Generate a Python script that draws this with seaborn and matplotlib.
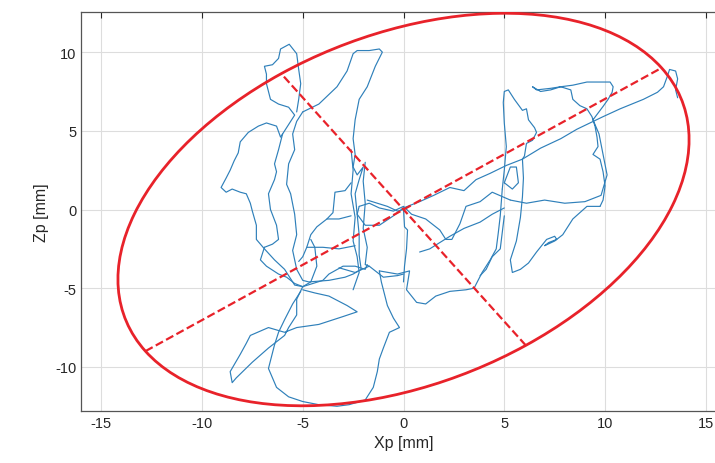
import numpy as np
import pandas as pd
import seaborn as sns
from matplotlib import pyplot as plt
from matplotlib.patches import Ellipse

# centre of pressure trace [mm]
loop_top_left = [(-5.3, 6.2), (-5.2, 7.0), (-5.1, 8.0), (-5.2, 8.9), (-5.3, 9.9), (-5.67, 10.5),
                 (-6.1, 10.2), (-6.2, 9.6), (-6.5, 9.2), (-6.9, 9.1), (-6.8, 8.6), (-6.8, 8.0),
                 (-6.6, 7.0), (-6.2, 6.7), (-5.7, 6.5), (-5.4, 6.0), (-5.7, 5.4), (-6.0, 4.8)]
left_lobe = [(-6.0, 4.8), (-6.1, 4.6), (-6.3, 5.3), (-6.8, 5.5), (-7.2, 5.3), (-7.7, 4.9),
             (-8.1, 4.3), (-8.2, 3.6), (-8.4, 3.1), (-8.6, 2.5), (-8.8, 2.0), (-9.05, 1.4),
             (-8.8, 1.1), (-8.5, 1.3), (-8.1, 1.1), (-7.8, 1.0), (-7.6, 0.4), (-7.5, -0.1),
             (-7.3, -1.0), (-7.3, -1.9), (-6.9, -2.5), (-6.4, -3.2), (-5.9, -3.8), (-5.4, -4.8),
             (-5.0, -4.9)]
inner_left = [(-6.0, 4.8), (-6.2, 3.8), (-6.4, 2.9), (-6.3, 2.4), (-6.4, 1.9), (-6.7, 1.0),
              (-6.6, 0.0), (-6.3, -1.0), (-6.2, -1.9), (-6.5, -2.2), (-6.9, -2.4)]
tip_loop = [(-5.0, -4.9), (-5.3, -5.7), (-5.3, -6.7), (-5.7, -7.5), (-5.9, -8.0), (-6.7, -8.8),
            (-7.5, -9.7), (-8.3, -10.7), (-8.5, -11.0), (-8.6, -10.3), (-8.1, -9.2), (-7.8, -8.5),
            (-7.6, -8.0), (-6.7, -7.5), (-5.9, -7.8), (-5.3, -7.5), (-4.2, -7.3), (-3.0, -6.8),
            (-2.3, -6.5), (-2.8, -6.1), (-3.7, -5.5), (-4.4, -5.3), (-5.0, -5.1)]
bottom_loop = [(-5.1, -5.2), (-5.5, -6.0), (-5.9, -7.0), (-6.2, -7.8), (-6.4, -8.6), (-6.7, -10.1),
               (-6.3, -11.3), (-5.7, -11.9), (-5.0, -12.2), (-4.2, -12.4), (-3.3, -12.5),
               (-2.7, -12.4), (-1.9, -12.1), (-1.5, -11.3), (-1.3, -10.3), (-1.2, -9.5),
               (-1.0, -8.8), (-0.7, -7.8), (-0.2, -7.5), (-0.5, -6.9), (-0.8, -6.1),
               (-1.1, -4.6), (-1.2, -3.9)]
lower_mid = [(-1.2, -3.9), (-0.3, -4.1), (0.3, -3.9), (0.15, -5.1), (0.65, -5.9), (1.1, -6.0),
             (1.6, -5.5), (2.3, -5.2), (3.1, -5.1), (3.5, -5.0), (3.9, -4.0), (4.3, -3.2),
             (4.6, -2.5), (4.7, -1.5), (4.8, -0.4), (4.9, 1.3)]
column_x5 = [(4.9, 1.3), (5.0, 2.5), (5.1, 4.0), (5.0, 5.5), (4.95, 6.8), (5.0, 7.5), (5.2, 7.6),
             (5.5, 7.0), (5.9, 6.3), (6.1, 6.4), (6.2, 5.7), (6.5, 5.2), (6.6, 4.9), (6.4, 4.4),
             (6.1, 4.2), (6.0, 3.4), (5.9, 3.2)]
spur = [(5.9, 3.2), (5.95, 2.0), (5.9, 0.8), (5.8, -0.5), (5.6, -2.0), (5.3, -3.2), (5.4, -4.0),
        (5.8, -3.8), (6.2, -3.4), (6.6, -2.7), (7.1, -1.9), (7.5, -1.7), (7.6, -1.9),
        (7.2, -2.1), (7.0, -2.3), (7.5, -2.0), (7.9, -1.6), (8.4, -0.6), (9.1, 0.2),
        (9.75, 0.2)]
right_loop = [(9.75, 0.2), (9.9, 0.6), (10.0, 1.5), (9.9, 2.4), (9.75, 3.2), (9.4, 3.5),
              (9.65, 4.0), (9.6, 4.6), (9.5, 5.3), (9.35, 5.9), (9.1, 6.4), (8.75, 6.6),
              (8.4, 7.0), (8.3, 7.6), (7.8, 7.8), (7.3, 7.6), (6.8, 7.5), (6.4, 7.8),
              (6.6, 7.6), (7.3, 7.7), (7.8, 7.8), (8.4, 7.9), (9.1, 8.1), (9.9, 8.1),
              (10.25, 8.1), (10.4, 7.8), (10.35, 7.45), (10.15, 7.0), (9.9, 6.55), (9.4, 5.7),
              (9.7, 4.8), (9.9, 3.5), (10.1, 2.2), (9.8, 0.9), (9.0, 0.5), (8.0, 0.4),
              (7.0, 0.6), (6.1, 0.4), (5.3, 0.6)]
to_centre = [(5.3, 0.6), (4.4, 1.1), (3.8, 0.5), (3.1, 0.2), (2.8, -0.9), (2.4, -1.9),
             (2.1, -1.9), (1.8, -1.3), (1.1, -0.6), (0.4, -0.3), (0.0, 0.2), (-0.5, -0.1),
             (-1.2, 0.1), (-1.7, 0.4), (-2.2, 0.2)]
left_return = [(-2.2, 0.2), (-2.3, -0.3), (-2.2, -1.6), (-2.2, -2.9), (-2.1, -3.8), (-2.5, -4.1),
               (-2.9, -4.3), (-3.7, -4.5), (-4.7, -4.6), (-5.0, -4.5), (-5.3, -3.8),
               (-5.5, -2.6), (-5.3, -1.6), (-5.4, -0.3), (-5.6, 1.0), (-5.8, 1.6), (-5.7, 2.9),
               (-5.4, 3.8), (-5.5, 4.8), (-5.3, 5.6), (-5.0, 6.2)]
upper_mid = [(-5.0, 6.2), (-4.2, 6.7), (-3.3, 7.8), (-2.8, 8.8), (-2.5, 9.9), (-2.3, 10.1),
             (-1.7, 10.1), (-1.2, 10.2), (-1.05, 10.0), (-1.4, 9.1), (-1.8, 7.8), (-2.2, 7.0),
             (-2.4, 5.7), (-2.5, 4.5), (-2.4, 3.5), (-2.5, 2.7), (-2.3, 2.2), (-2.0, 2.7),
             (-2.2, 1.9), (-2.4, 1.0), (-2.3, -0.3), (-1.9, -1.0), (-1.2, -1.0), (-0.5, -0.4),
             (0.0, 0.1)]
far_right = [(0.0, 0.1), (0.8, 0.5), (1.5, 0.9), (2.3, 1.4), (3.0, 1.2), (3.6, 1.9), (4.3, 2.3),
             (5.1, 2.8), (5.9, 3.2), (6.8, 3.9), (7.8, 4.5), (8.6, 5.1), (9.25, 5.5), (9.9, 5.9),
             (10.75, 6.4), (11.9, 7.0), (12.6, 7.45), (12.9, 7.8), (13.1, 8.5), (13.2, 8.9),
             (13.5, 8.8), (13.6, 8.3), (13.5, 7.6), (13.6, 7.1)]
# extra strands in the dense middle
column_b = [(-2.6, 3.8), (-2.5, 2.5), (-2.6, 1.0), (-2.4, -0.5), (-2.5, -2.0), (-2.3, -3.0),
            (-2.2, -4.0), (-2.5, -5.1)]
column_c = [(-1.9, 3.0), (-2.0, 1.8), (-1.9, 0.4), (-2.0, -1.2), (-1.8, -2.4), (-1.9, -3.5),
            (-1.7, -3.6)]
mid_left = [(-2.6, 1.7), (-2.9, 1.2), (-3.4, 1.1), (-3.5, -0.2), (-3.8, -0.6), (-4.3, -1.1),
            (-4.6, -1.6), (-4.8, -2.4), (-5.0, -3.0), (-5.2, -3.3)]
mid_left_b = [(-3.8, -0.6), (-3.2, -0.6), (-2.6, -0.4)]
mid_left_c = [(-4.8, -2.4), (-4.0, -2.4), (-3.2, -2.5), (-2.4, -2.3)]
centre_down = [(-1.8, 0.6), (-1.3, 0.4), (-0.8, 0.2), (-0.3, -0.1), (0.0, 0.0), (0.05, -1.1),
               (0.2, -1.3), (0.15, -2.5), (0.05, -3.6), (0.0, -4.6)]
low_row = [(-3.2, -3.7), (-2.4, -4.0), (-1.7, -3.6), (-1.0, -4.3), (-0.3, -4.2), (0.0, -4.1)]
diag_right = [(0.8, -2.7), (1.3, -2.5), (1.8, -2.1), (2.3, -1.7), (3.0, -1.2), (3.8, -0.8),
              (4.4, -0.3), (5.0, 0.1)]
small_loop = [(5.0, 1.7), (5.3, 2.7), (5.6, 2.7), (5.7, 1.7), (5.4, 1.3), (5.0, 1.7)]
x5_down = [(5.0, -0.4), (4.8, -2.5), (4.4, -3.0), (4.1, -3.8), (3.8, -4.2)]
k1_left = [(-5.0, -4.9), (-5.4, -4.7), (-5.8, -4.3), (-6.2, -4.1), (-6.8, -3.6), (-7.1, -3.2),
           (-6.9, -2.4)]
k1_up = [(-4.6, -1.9), (-4.4, -2.4), (-4.3, -3.6), (-4.6, -4.6), (-5.0, -4.9)]
k1_right = [(-5.0, -4.9), (-4.0, -4.5), (-3.7, -4.1), (-3.0, -3.6), (-2.4, -3.6), (-1.9, -3.8),
            (-1.8, -3.5)]

segments = [loop_top_left, left_lobe, inner_left, tip_loop, bottom_loop, lower_mid, column_x5,
            spur, right_loop, to_centre, left_return, upper_mid, far_right, column_b, column_c,
            mid_left, mid_left_b, mid_left_c, centre_down, low_row, diag_right, small_loop,
            x5_down, k1_left, k1_up, k1_right]

# 95% confidence ellipse
ell_centre = (0.0, 0.0)
ell_semi_major = 15.65
ell_semi_minor = 10.55
ell_angle_deg = 35.1

rows = []
for i, seg in enumerate(segments):
    for j, (x, y) in enumerate(seg):
        rows.append((i, j, x, y))
df = pd.DataFrame(rows, columns=["seg", "step", "x", "y"])

sns.set_theme(style="whitegrid")
plt.rcParams["font.family"] = ["Liberation Sans", "DejaVu Sans"]
plt.rcParams["axes.unicode_minus"] = False

fig = plt.figure(figsize=(7.15, 4.64), dpi=100)
ax = fig.add_axes([0.1133, 0.1121, 0.9021, 0.8599])

sns.lineplot(data=df, x="x", y="y", units="seg", sort=False, estimator=None, ax=ax,
             color="#2f80ba", linewidth=0.85)

ell = Ellipse(ell_centre, 2 * ell_semi_major, 2 * ell_semi_minor, angle=ell_angle_deg,
              fill=False, edgecolor="#e8222a", linewidth=2.0, zorder=3)
ax.add_patch(ell)

th = np.deg2rad(ell_angle_deg)
cx, cy = ell_centre
dx, dy = ell_semi_major * np.cos(th), ell_semi_major * np.sin(th)
ax.plot([cx - dx, cx + dx], [cy - dy, cy + dy], "--", color="#e8222a", lw=1.6, zorder=3)
dx, dy = -ell_semi_minor * np.sin(th), ell_semi_minor * np.cos(th)
ax.plot([cx - dx, cx + dx], [cy - dy, cy + dy], "--", color="#e8222a", lw=1.6, zorder=3)

ax.set_xlim(-16, 16)
ax.set_ylim(-12.8, 12.55)
ax.set_xticks([-15, -10, -5, 0, 5, 10, 15])
ax.set_yticks([-10, -5, 0, 5, 10])
ax.set_xlabel("Xp [mm]", fontsize=11.5, color="#262626")
ax.set_ylabel("Zp [mm]", fontsize=11.5, color="#262626")
ax.tick_params(direction="in", length=4, width=0.8, colors="#262626", labelsize=10.5,
               top=True, right=True, labelcolor="#262626")
ax.grid(True, color="#dddddd", linewidth=0.8)
ax.set_facecolor("white")
for s in ax.spines.values():
    s.set_color("#555555")
    s.set_linewidth(0.9)

fig.savefig("out.png", dpi=100)
